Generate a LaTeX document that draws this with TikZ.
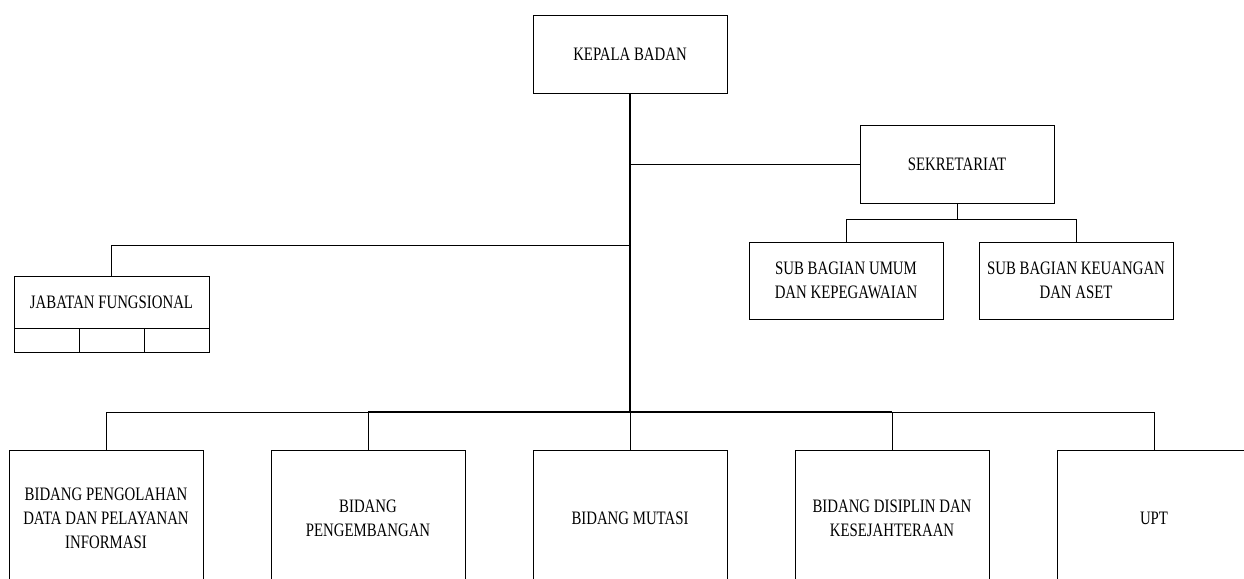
\documentclass[tikz,border=0pt]{standalone}
\usepackage{fontspec}
\setmainfont[FakeStretch=0.78]{Liberation Serif}
\begin{document}
\begin{tikzpicture}[x=1pt,y=-1pt,
  box/.style={draw,line width=0.8pt,inner sep=0pt,align=center,font=\fontsize{19}{24}\selectfont},
  thin/.style={line width=0.8pt},
  mid/.style={line width=1.3pt},
  thick/.style={line width=2pt}]
\useasboundingbox (0,0) rectangle (1244,578);
\clip (0,0) rectangle (1244,578);
\fill[white] (0,0) rectangle (1244,578);
% top
\node[box,minimum width=194pt,minimum height=78pt] (kepala) at (630,54) {KEPALA BADAN};
\node[box,minimum width=194pt,minimum height=78pt] (sekr) at (957,164) {SEKRETARIAT};
\node[box,minimum width=194pt,minimum height=77pt] (umum) at (846,280.5) {SUB BAGIAN UMUM\\DAN KEPEGAWAIAN};
\node[box,minimum width=194pt,minimum height=77pt] (keu) at (1076,280.5) {SUB BAGIAN KEUANGAN\\DAN ASET};
% jabatan fungsional
\node[box,minimum width=195pt,minimum height=52pt] (jab) at (111.5,302) {JABATAN FUNGSIONAL};
\node[draw,thin,minimum width=65pt,minimum height=24pt,inner sep=0pt,anchor=north west] (j1) at (14,328) {};
\node[draw,thin,minimum width=65pt,minimum height=24pt,inner sep=0pt,anchor=north west] (j2) at (79,328) {};
\node[draw,thin,minimum width=65pt,minimum height=24pt,inner sep=0pt,anchor=north west] (j3) at (144,328) {};
% bottom row
\node[box,minimum width=194pt,minimum height=136pt] (b1) at (106,518) {BIDANG PENGOLAHAN\\DATA DAN PELAYANAN\\INFORMASI};
\node[box,minimum width=194pt,minimum height=136pt] (b2) at (368,518) {BIDANG\\PENGEMBANGAN};
\node[box,minimum width=194pt,minimum height=136pt] (b3) at (630,518) {BIDANG MUTASI};
\node[box,minimum width=194pt,minimum height=136pt] (b4) at (892,518) {BIDANG DISIPLIN DAN\\KESEJAHTERAAN};
\node[box,minimum width=194pt,minimum height=136pt] (b5) at (1154,518) {UPT};
% coordinates
\coordinate (busL) at (106,412);
\coordinate (busR) at (1154,412);
\coordinate (trunkB) at (630,412);
\coordinate (jabJ) at (630,245);
\coordinate (sekJ) at (630,164);
% connectors
\draw[thick] (kepala.south) -- (trunkB);
\draw[thin] (sekJ) -- (sekr.west);
\draw[thin] (jabJ) -| (jab.north);
\draw[thin] (sekr.south) -- (957,219) -| (umum.north);
\draw[thin] (957,219) -| (keu.north);
\draw[thin] (busL) -- (368,412);
\draw[mid] (368,412) -- (892,412);
\draw[thin] (892,412) -- (busR);
\draw[thin] (busL) -- (b1.north);
\draw[thin] (368,412) -- (b2.north);
\draw[thin] (trunkB) -- (b3.north);
\draw[thin] (892,412) -- (b4.north);
\draw[thin] (busR) -- (b5.north);
\end{tikzpicture}
\end{document}
